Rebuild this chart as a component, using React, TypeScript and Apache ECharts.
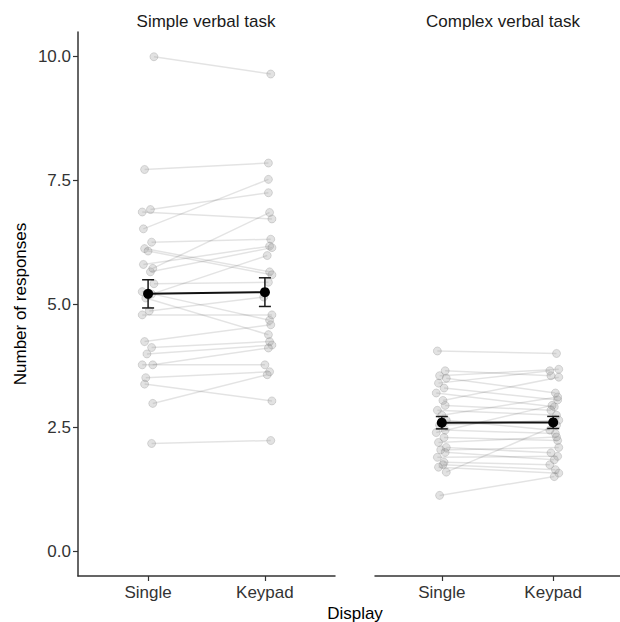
import React, { useEffect, useRef } from "react";
import * as echarts from "echarts";

const panelTitles = ["Simple verbal task", "Complex verbal task"];
const displays = ["Single", "Keypad"];
const yTicks = [0, 2.5, 5, 7.5, 10];

// Simple verbal task: per participant, Single -> Keypad
const simpleSingle = [10.0, 7.72, 6.91, 6.86, 6.52, 6.25, 6.12, 6.07, 5.8, 5.72, 5.65, 5.41, 5.25, 5.2, 5.12, 4.86, 4.78, 4.24, 4.12, 3.99, 3.77, 3.77, 3.51, 3.38, 2.99, 2.18];
const simpleKeypad = [9.65, 7.85, 7.25, 6.72, 7.52, 6.31, 5.65, 5.59, 6.17, 6.85, 6.14, 5.44, 4.67, 5.98, 4.38, 5.14, 4.78, 4.58, 4.24, 4.17, 3.77, 4.11, 3.63, 3.04, 3.57, 2.24];
const simpleSingleJit = [0.05, -0.03, 0.02, -0.05, -0.04, 0.03, -0.03, 0.0, -0.04, 0.04, 0.02, 0.05, -0.05, 0.03, -0.02, 0.01, -0.05, -0.03, 0.03, -0.01, -0.05, 0.04, -0.02, -0.03, 0.04, 0.03];
const simpleKeypadJit = [0.05, 0.03, 0.03, 0.06, 0.03, 0.05, 0.04, 0.06, 0.04, 0.04, 0.06, 0.03, 0.04, 0.02, 0.03, -0.01, 0.06, 0.05, 0.04, 0.06, 0.0, 0.03, 0.04, 0.06, 0.02, 0.05];

// Complex verbal task
const complexSingle = [4.05, 3.65, 3.55, 3.5, 3.4, 3.3, 3.2, 3.05, 2.95, 2.85, 2.75, 2.65, 2.55, 2.45, 2.4, 2.3, 2.2, 2.1, 2.05, 2.0, 1.9, 1.8, 1.75, 1.7, 1.6, 1.13];
const complexKeypad = [4.0, 3.55, 3.68, 3.2, 3.65, 3.06, 2.92, 3.52, 2.85, 2.75, 3.12, 2.45, 2.65, 2.38, 2.95, 2.24, 2.31, 1.99, 2.1, 1.85, 1.92, 1.75, 1.65, 1.58, 2.55, 1.51];
const complexSingleJit = [-0.04, 0.03, -0.02, 0.04, -0.03, 0.02, -0.05, 0.01, 0.03, -0.04, 0.0, 0.04, -0.02, 0.03, -0.05, 0.02, -0.03, 0.04, -0.01, 0.03, -0.04, 0.02, 0.01, -0.03, 0.04, -0.02];
const complexKeypadJit = [0.03, -0.02, 0.05, 0.02, -0.03, 0.04, 0.01, 0.05, -0.02, 0.03, 0.04, -0.03, 0.05, 0.02, -0.01, 0.04, 0.03, -0.02, 0.05, 0.01, 0.04, -0.03, 0.02, 0.05, 0.03, 0.01];

// Means and standard errors (Single, Keypad)
const simpleMean = [5.205, 5.24];
const simpleSE = [0.285, 0.29];
const complexMean = [2.6, 2.605];
const complexSE = [0.125, 0.122];

const FONT = "Liberation Sans, Arial, sans-serif";
const AXIS_COLOR = "#333333";

function panelSeries(
  gi: number,
  single: number[],
  keypad: number[],
  jitS: number[],
  jitK: number[],
  mean: number[],
  se: number[]
): any[] {
  const out: any[] = [];
  single.forEach((s, i) => {
    out.push({
      type: "line",
      xAxisIndex: gi,
      yAxisIndex: gi,
      data: [
        [1 + jitS[i], s],
        [2 + jitK[i], keypad[i]],
      ],
      symbol: "circle",
      symbolSize: 8,
      itemStyle: { color: "rgba(150,150,150,0.28)", borderColor: "rgba(120,120,120,0.25)", borderWidth: 1 },
      lineStyle: { color: "rgba(0,0,0,0.11)", width: 1.5 },
      silent: true,
      z: 2,
    });
  });
  out.push({
    type: "custom",
    xAxisIndex: gi,
    yAxisIndex: gi,
    data: mean.map((m, i) => [i + 1, m, se[i]]),
    renderItem: (params: any, api: any) => {
      const x = api.value(0);
      const m = api.value(1);
      const e = api.value(2);
      const top = api.coord([x, m + e]);
      const bot = api.coord([x, m - e]);
      const hw = 6;
      const st = { stroke: "#1a1a1a", lineWidth: 1.5 };
      return {
        type: "group",
        children: [
          { type: "line", shape: { x1: top[0], y1: top[1], x2: bot[0], y2: bot[1] }, style: st },
          { type: "line", shape: { x1: top[0] - hw, y1: top[1], x2: top[0] + hw, y2: top[1] }, style: st },
          { type: "line", shape: { x1: bot[0] - hw, y1: bot[1], x2: bot[0] + hw, y2: bot[1] }, style: st },
        ],
      };
    },
    z: 5,
  });
  out.push({
    type: "line",
    xAxisIndex: gi,
    yAxisIndex: gi,
    data: mean.map((m, i) => [i + 1, m]),
    symbol: "circle",
    symbolSize: 10,
    itemStyle: { color: "#000" },
    lineStyle: { color: "#111", width: 2 },
    silent: true,
    z: 6,
  });
  return out;
}

function xAxis(gi: number) {
  return {
    gridIndex: gi,
    type: "value",
    min: 0.4,
    max: 2.6,
    axisLine: { show: true, onZero: false, lineStyle: { color: AXIS_COLOR, width: 1.5 } },
    axisTick: { show: true, customValues: [1, 2], length: 5, lineStyle: { color: AXIS_COLOR, width: 1.2 } },
    axisLabel: {
      customValues: [1, 2],
      formatter: (v: number) => displays[Math.round(v) - 1],
      fontSize: 17,
      color: "#333",
      fontFamily: FONT,
      margin: 8,
    },
    splitLine: { show: false },
  };
}

export default function App() {
  const ref = useRef<HTMLDivElement>(null);
  useEffect(() => {
    if (!ref.current) return;
    const chart = echarts.init(ref.current, undefined, { renderer: "svg" });
    const option: any = {
      animation: false,
      backgroundColor: "#ffffff",
      textStyle: { fontFamily: FONT },
      grid: [
        { left: 78, right: 285, top: 32, bottom: 46 },
        { left: 375, right: -11, top: 32, bottom: 46 },
      ],
      xAxis: [xAxis(0), xAxis(1)],
      yAxis: [
        {
          gridIndex: 0,
          type: "value",
          min: -0.5,
          max: 10.5,
          axisLine: { show: true, lineStyle: { color: AXIS_COLOR, width: 1.5 } },
          axisTick: { show: true, customValues: yTicks, length: 5, lineStyle: { color: AXIS_COLOR, width: 1.2 } },
          axisLabel: {
            customValues: yTicks,
            formatter: (v: number) => v.toFixed(1),
            fontSize: 17,
            color: "#333",
            fontFamily: FONT,
            margin: 7,
          },
          splitLine: { show: false },
        },
        { gridIndex: 1, type: "value", min: -0.5, max: 10.5, show: false, splitLine: { show: false } },
      ],
      graphic: [
        { type: "text", x: 206, y: 21, style: { text: panelTitles[0], align: "center", verticalAlign: "middle", fontSize: 17, fill: "#1a1a1a", fontFamily: FONT } },
        { type: "text", x: 503, y: 21, style: { text: panelTitles[1], align: "center", verticalAlign: "middle", fontSize: 17, fill: "#1a1a1a", fontFamily: FONT } },
        { type: "text", x: 355, y: 613, style: { text: "Display", align: "center", verticalAlign: "middle", fontSize: 17, fill: "#000", fontFamily: FONT } },
        { type: "text", x: 20, y: 304, rotation: Math.PI / 2, style: { text: "Number of responses", align: "center", verticalAlign: "middle", fontSize: 17, fill: "#000", fontFamily: FONT } },
      ],
      series: [
        ...panelSeries(0, simpleSingle, simpleKeypad, simpleSingleJit, simpleKeypadJit, simpleMean, simpleSE),
        ...panelSeries(1, complexSingle, complexKeypad, complexSingleJit, complexKeypadJit, complexMean, complexSE),
      ],
    };
    chart.setOption(option);
    return () => chart.dispose();
  }, []);
  return <div ref={ref} style={{ position: "absolute", left: 0, top: 0, width: 620, height: 622 }} />;
}
